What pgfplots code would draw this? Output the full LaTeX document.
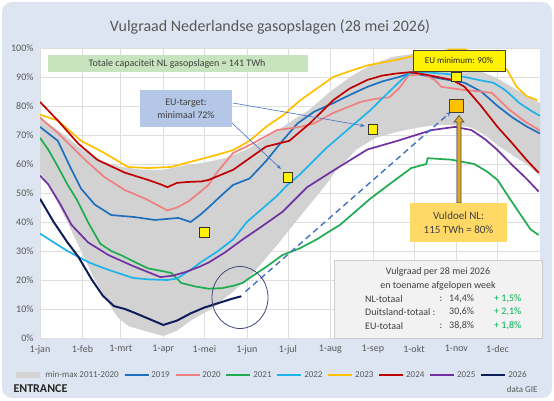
\documentclass[border=0pt]{standalone}
\usepackage{pgfplots}
\pgfplotsset{compat=1.18}
\usepackage{fontspec}
\setmainfont{Carlito}
\usetikzlibrary{arrows.meta}

\definecolor{panel}{RGB}{220,229,241}
\definecolor{txtgray}{RGB}{89,89,89}
\definecolor{darktxt}{RGB}{64,64,64}
\definecolor{band}{RGB}{210,210,210}
\definecolor{c2019}{RGB}{30,112,190}
\definecolor{c2020}{RGB}{240,128,128}
\definecolor{c2021}{RGB}{30,172,80}
\definecolor{c2022}{RGB}{30,180,235}
\definecolor{c2023}{RGB}{255,192,0}
\definecolor{c2024}{RGB}{192,0,0}
\definecolor{c2025}{RGB}{112,48,160}
\definecolor{c2026}{RGB}{15,30,90}
\definecolor{dashblue}{RGB}{68,114,196}
\definecolor{greenbox}{RGB}{200,228,190}
\definecolor{targetbox}{RGB}{180,199,231}
\definecolor{goalbox}{RGB}{255,217,102}
\definecolor{arrowgold}{RGB}{222,170,40}
\definecolor{infobox}{RGB}{242,242,242}
\definecolor{plusgreen}{RGB}{0,176,80}

\begin{document}
\begin{tikzpicture}
% panel
\fill[white] (0pt,0pt) rectangle (554pt,400pt);
\fill[panel, rounded corners=10pt] (2pt,2pt) rectangle (552pt,398pt);
\node[font=\fontsize{16}{18}\selectfont, text=txtgray] at (270pt,373pt)
  {Vulgraad Nederlandse gasopslagen (28 mei 2026)};

\begin{axis}[
  at={(40pt,62pt)}, anchor=south west,
  scale only axis, width=500pt, height=290pt,
  xmin=0, xmax=365, ymin=0, ymax=100,
  xtick={0,31,59,90,120,151,181,212,243,273,304,334},
  xticklabels={1-jan,1-feb,1-mrt,1-apr,1-mei,1-jun,1-jul,1-aug,1-sep,1-okt,1-nov,1-dec},
  ytick={0,10,...,100},
  yticklabel={\pgfmathprintnumber{\tick}\%},
  /pgf/number format/assume math mode=true,
  grid=major, grid style={draw=black!13, line width=0.7pt},
  axis background/.style={fill=white},
  axis line style={draw=none},
  major tick length=0pt,
  tick label style={font=\fontsize{10}{12}\selectfont, text=txtgray},
  xticklabel style={yshift=-4pt},
  yticklabel style={xshift=-3pt},
  legend style={at={(0.462,-0.128)}, anchor=center, legend columns=-1,
    draw=none, fill=none, font=\fontsize{9}{10}\selectfont, text=txtgray,
    /tikz/every even column/.append style={column sep=3pt},
    inner sep=0pt},
  legend image code/.code={\draw[#1] (0pt,0pt) -- (24pt,0pt);},
]

% min-max band 2011-2020: upper edge, then lower edge backwards
\addplot[fill=band, draw=none, forget plot] coordinates {
  (0,76) (15,71) (31,65) (45,61) (59,59) (75,58) (90,58) (105,59.5)
  (120,60.5) (135,62) (151,65) (165,69) (181,74) (196,78.5) (212,85)
  (228,90.5) (243,94.5) (258,97) (273,98) (288,97.5) (304,95) (319,92.5)
  (334,89.5) (350,85) (365,81)
  (365,56) (355,60) (345,63) (334,66.5) (325,70) (315,72.5) (304,73.5)
  (290,73.5) (275,72.5) (260,71) (245,69) (231,65) (215,57) (209,53)
  (190,42) (173,32) (155,22) (141,16) (125,10) (110,6) (100,2.5) (90,0.7)
  (80,2) (65,4) (57,7) (50,12) (40,20) (30,30) (20,40) (6,53) (0,57)
} -- cycle;
\addlegendimage{line width=6pt, color=band}
\addlegendentry{min-max 2011-2020}

\addplot[c2019, line width=1.7pt] coordinates {
  (0,72.8) (13,68) (22,59) (30,51.5) (40,46) (52,42.4) (69,41.7) (84,40.7)
  (101,41.4) (110,40) (117,42.5) (123,45) (132,49) (141,52.8) (153,55)
  (165,61) (177,68) (188,74) (200,78) (214,81) (227,84) (239,86.6)
  (250,88.5) (262,90) (271,91.4) (286,90) (298,89) (310,88) (322,85)
  (334,80) (345,76) (355,73) (365,70.5)
};
\addlegendentry{2019}

\addplot[c2020, line width=1.7pt] coordinates {
  (0,76) (13,70.7) (33,61.4) (47,55.5) (62,51) (77,48) (85,46) (93,44)
  (100,45) (108,47) (116,50) (123,52.8) (129,57) (141,63.8) (155,67)
  (173,71.7) (190,72.8) (200,74) (214,77.6) (234,81.4) (245,82.5)
  (255,83) (262,86) (269,90.5) (280,91) (288,89) (293,86.6) (310,85.5)
  (322,85) (330,84.5) (342,79) (353,75) (365,71.5)
};
\addlegendentry{2020}

\addplot[c2021, line width=1.7pt] coordinates {
  (0,69) (6,65) (12,60) (20,53) (27,47.6) (35,40) (44,32.5) (52,30)
  (59,28.6) (70,26) (79,24) (90,23) (96,22.4) (103,19) (113,17.8)
  (123,17) (133,17.2) (141,18) (148,19) (153,20.7) (165,24.5) (177,28.6)
  (190,31) (202,34) (212,37) (219,39) (230,43.5) (241,48) (255,53)
  (271,58.6) (282,60) (283,62) (300,61.5) (317,60) (326,57.5) (334,54.5)
  (343,48) (352,41.7) (358,37.5) (364,35.5)
};
\addlegendentry{2021}

\addplot[c2022, line width=1.7pt] coordinates {
  (0,36) (10,33) (20,30) (36,26) (50,23.5) (68,20.7) (80,20.2) (93,20)
  (100,20.5) (104,21.7) (110,23.5) (117,26) (130,30) (141,34) (151,40)
  (162,44.5) (173,49) (180,52.5) (190,56.5) (209,65.5) (225,72)
  (241,78.5) (255,85) (265,89.5) (271,91.7) (285,91.5) (298,91)
  (310,90) (320,89) (331,88) (338,86) (342,84.5) (350,81) (358,78.5)
  (365,76.6)
};
\addlegendentry{2022}

\addplot[c2023, line width=1.7pt] coordinates {
  (0,77) (13,75) (30,68) (47,63.8) (64,59) (79,58.6) (96,59) (115,61.4)
  (128,63) (141,64.8) (153,68) (165,72.8) (178,77) (190,82) (202,86)
  (214,90) (226,92) (239,94) (250,95) (261,96) (275,97.5) (290,98.5)
  (300,99.5) (310,99.5) (320,98) (328,96) (335,94.5) (341,92.4)
  (348,86.6) (355,83.5) (363,82)
};
\addlegendentry{2023}

\addplot[c2024, line width=1.7pt] coordinates {
  (0,81.4) (13,75) (28,67) (42,61.4) (62,57) (79,54.5) (88,53) (93,52)
  (100,53.5) (108,53.8) (118,54) (123,54.5) (141,58) (150,61) (165,66)
  (182,68) (197,74) (214,82) (226,86) (239,89) (250,90.5) (260,91.2)
  (271,91.7) (285,90.5) (301,89) (310,86.6) (322,80) (334,72.8)
  (345,67) (355,61.5) (364,57)
};
\addlegendentry{2024}

\addplot[c2025, line width=1.7pt] coordinates {
  (0,56) (6,53) (15,46) (23,39) (35,33) (50,28.6) (67,25) (80,22.5)
  (88,21) (97,21.5) (106,22.7) (116,24.5) (123,26) (135,29.5) (148,34)
  (162,38.5) (177,43.5) (195,52) (215,58) (239,65) (261,68) (286,71.7)
  (303,72.8) (315,71.7) (325,68.5) (334,64.8) (345,59.5) (355,55)
  (364,50.5)
};
\addlegendentry{2025}

\addplot[c2026, line width=2pt] coordinates {
  (0,48) (10,40) (20,33) (28,28) (38,20) (46,14.5) (54,11) (62,10)
  (70,8.5) (80,6.5) (90,4.5) (100,6) (110,8.5) (120,10.5) (130,12)
  (140,13.5) (147,14.4)
};
\addlegendentry{2026}

% projected path towards the national target
\addplot[dashblue, line width=1.4pt, dash pattern=on 6pt off 4pt,
  -{Stealth[length=5pt,width=4pt]}, forget plot]
  coordinates {(150,16) (300,78)};

% EU trajectory checkpoints
\addplot[only marks, mark=square*, mark size=4.8pt,
  mark options={fill=yellow, draw=black!80, line width=0.7pt}, forget plot]
  coordinates {(120,36.5) (181,55.5) (243,72) (304,90)};
% national filling target
\addplot[only marks, mark=square*, mark size=6.8pt,
  mark options={fill=c2023, draw=black!75, line width=0.7pt}, forget plot]
  coordinates {(304,80)};
\end{axis}

% capacity note
\fill[greenbox] (48pt,328pt) rectangle (308pt,345pt);
\node[font=\fontsize{10}{12}\selectfont, text=darktxt] at (177pt,336.5pt)
  {Totale capaciteit NL gasopslagen = 141 TWh};

% EU target note with pointers
\fill[targetbox] (140pt,273pt) rectangle (232pt,310pt);
\node[font=\fontsize{10}{12}\selectfont, text=darktxt, align=center] at (186pt,291.5pt)
  {EU-target:\\[1pt]minimaal 72\%};
\draw[dashblue, line width=0.6pt, -{Stealth[length=5pt,width=3.5pt]}]
  (233pt,297pt) -- (365pt,274pt);
\draw[dashblue, line width=0.6pt, -{Stealth[length=5pt,width=3.5pt]}]
  (232pt,277pt) -- (281pt,231pt);

% EU minimum label
\draw[fill=yellow, draw=black!75, line width=0.7pt] (413pt,329pt) rectangle (505pt,350pt);
\node[font=\fontsize{9}{11}\selectfont, text=black!85] at (459pt,339.5pt)
  {EU minimum: 90\%};

% arrow up to the national target
\draw[fill=arrowgold, draw=black!70, line width=0.6pt]
  (457pt,197pt) -- (457pt,278pt) -- (454pt,278pt) -- (459pt,284.5pt)
  -- (464pt,278pt) -- (461pt,278pt) -- (461pt,197pt) -- cycle;
\fill[goalbox] (410pt,158pt) rectangle (507pt,197pt);
\node[font=\fontsize{11}{13}\selectfont, text=darktxt, align=center] at (458.5pt,177pt)
  {Vuldoel NL:\\[1pt]115 TWh = 80\%};

% circle round the latest value
\draw[c2026!80!white, line width=0.8pt] (240pt,102.5pt) ellipse [x radius=28pt, y radius=31pt];

% current figures
\draw[fill=infobox, draw=black!20, line width=0.6pt] (334pt,62pt) rectangle (542pt,140pt);
\begin{scope}[every node/.style={font=\fontsize{10}{12}\selectfont, text=darktxt, inner sep=0pt}]
\node at (438pt,128pt) {Vulgraad per 28 mei 2026};
\node at (438pt,114pt) {en toename afgelopen week};
\node[anchor=west] at (365pt,101pt) {NL-totaal};
\node at (441pt,101pt) {:};
\node[anchor=west] at (449pt,101pt) {14,4\%};
\node[anchor=west, text=plusgreen] at (494pt,101pt) {+ 1,5\%};
\node[anchor=west] at (365pt,88pt) {Duitsland-totaal :};
\node[anchor=west] at (449pt,88pt) {30,6\%};
\node[anchor=west, text=plusgreen] at (494pt,88pt) {+ 2,1\%};
\node[anchor=west] at (365pt,74pt) {EU-totaal};
\node at (441pt,74pt) {:};
\node[anchor=west] at (449pt,74pt) {38,8\%};
\node[anchor=west, text=plusgreen] at (494pt,74pt) {+ 1,8\%};
\end{scope}

% footer
\node[anchor=west, font=\bfseries\fontsize{12}{14}\selectfont, text=black!85] at (10pt,11pt) {ENTRANCE};
\node[anchor=east, font=\fontsize{9}{11}\selectfont, text=txtgray] at (541pt,11pt) {data GIE};
\end{tikzpicture}
\end{document}
